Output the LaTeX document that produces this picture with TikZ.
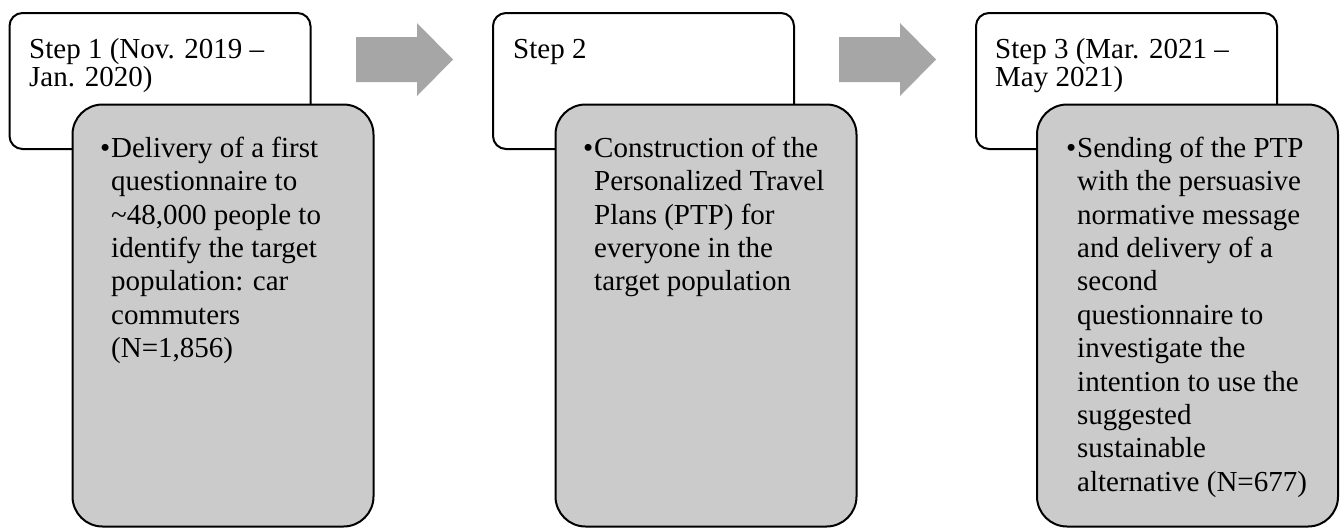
\documentclass[tikz,border=0pt]{standalone}
\usepackage{fontspec}
\setmainfont{Liberation Serif}
\definecolor{boxgray}{HTML}{CBCBCB}
\definecolor{arrowgray}{HTML}{A6A6A6}
\begin{document}
\begin{tikzpicture}[x=1pt,y=-1pt,
  headbox/.style={draw=black, line width=2pt, fill=white, rounded corners=13pt, minimum width=301pt, minimum height=136pt, inner sep=0pt},
  bodybox/.style={draw=black, line width=2pt, fill=boxgray, rounded corners=30pt, minimum width=301pt, minimum height=422pt, inner sep=0pt},
  headtext/.style={anchor=north west, inner sep=0pt, align=left, font=\fontsize{29}{28}\selectfont},
  bodytext/.style={anchor=north west, inner sep=0pt, align=left, font=\fontsize{29}{33.4}\selectfont},
  flowarrow/.style={fill=arrowgray, draw=none}]
\useasboundingbox (0,0) rectangle (1343,528);
% header boxes
\node[headbox] (h1) at (160,81) {};
\node[headbox] (h2) at (643.5,81) {};
\node[headbox] (h3) at (1126.5,81) {};
% body boxes
\node[bodybox] (g1) at (223,315.5) {};
\node[bodybox] (g2) at (706,315.5) {};
\node[bodybox] (g3) at (1187.5,315.5) {};
% header texts
\node[headtext] (t1) at (29,36) {\rule{0pt}{22pt}Step 1 (Nov. 2019 –\\Jan. 2020)};
\node[headtext] (t2) at (513,36) {\rule{0pt}{22pt}Step 2};
\node[headtext] (t3) at (995,36) {\rule{0pt}{22pt}Step 3 (Mar. 2021 –\\May 2021)};
% body texts
\node[bodytext] (b1) at (111,135) {\rule{0pt}{22pt}\llap{•\kern1pt}Delivery of a first\\questionnaire to\\\textasciitilde48,000 people to\\identify the target\\population: car\\commuters\\(N=1,856)};
\node[bodytext] (b2) at (594,135) {\rule{0pt}{22pt}\llap{•\kern1pt}Construction of the\\Personalized Travel\\Plans (PTP) for\\everyone in the\\target population};
\node[bodytext] (b3) at (1077,135) {\rule{0pt}{22pt}\llap{•\kern1pt}Sending of the PTP\\with the persuasive\\normative message\\and delivery of a\\second\\questionnaire to\\investigate the\\intention to use the\\suggested\\sustainable\\alternative (N=677)};
% arrows
\fill[flowarrow] (356,37) -- (417,37) -- (417,23) -- (453,59.5) -- (417,96) -- (417,82) -- (356,82) -- cycle;
\fill[flowarrow] (839,37) -- (900,37) -- (900,23) -- (936,59.5) -- (900,96) -- (900,82) -- (839,82) -- cycle;
\end{tikzpicture}
\end{document}
